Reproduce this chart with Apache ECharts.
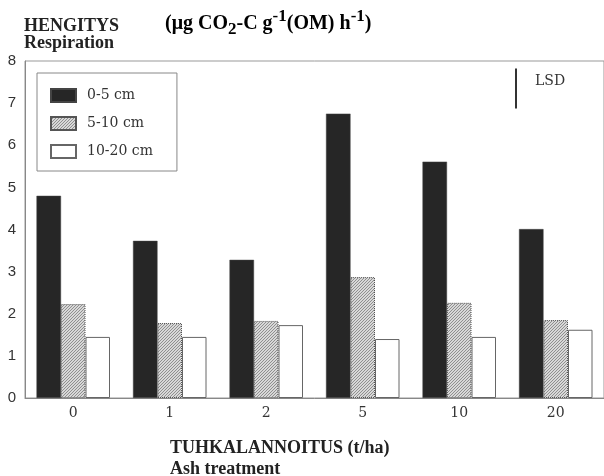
<!DOCTYPE html>
<html><head><meta charset="utf-8">
<script src="https://cdn.jsdelivr.net/npm/echarts@6/dist/echarts.min.js"></script>
<style>html,body{margin:0;padding:0;background:#fff}#c{width:604px;height:476px}</style>
</head><body><div id="c"></div>
<script>
const categories = ['0', '1', '2', '5', '10', '20'];
const depth0_5 = [4.80, 3.73, 3.28, 6.75, 5.61, 4.01];
const depth5_10 = [2.23, 1.78, 1.83, 2.87, 2.26, 1.85];
const depth10_20 = [1.45, 1.45, 1.73, 1.40, 1.45, 1.62];
const seriesNames = ['0-5 cm', '5-10 cm', '10-20 cm'];
const yTicks = [0, 1, 2, 3, 4, 5, 6, 7, 8];
const lsdTop = 7.82, lsdValue = 0.95;

function hatch() {
  const c = document.createElement('canvas');
  c.width = 3; c.height = 3;
  const g = c.getContext('2d');
  g.fillStyle = '#d8d8d8'; g.fillRect(0, 0, 3, 3);
  g.fillStyle = '#8f8f8f';
  for (let i = 0; i < 3; i++) { g.fillRect(i, 2 - i, 1, 1); }
  return c;
}
const chart = echarts.init(document.getElementById('c'), null, {renderer: 'canvas'});
const serif = 'Liberation Serif';
const richUnits = {
  n: {fontFamily: serif, fontWeight: 'bold', fontSize: 20, color: '#222', lineHeight: 26, verticalAlign: 'bottom'},
  sub: {fontFamily: serif, fontWeight: 'bold', fontSize: 17, color: '#222', lineHeight: 26, verticalAlign: 'bottom', padding: [0, 0, -4, 0]},
  sup: {fontFamily: serif, fontWeight: 'bold', fontSize: 17, color: '#222', lineHeight: 26, verticalAlign: 'top'}
};
const baseGraphic = [
  {type: 'text', left: 165, top: 8,
   style: {text: '{n|(μg CO}{sub|2}{n|-C g}{sup|-1}{n|(OM) h}{sup|-1}{n|)}', rich: richUnits}},
  {type: 'text', left: 170, top: 438,
   style: {text: 'TUHKALANNOITUS (t/ha)\nAsh treatment', fontFamily: serif, fontWeight: 'bold', fontSize: 18, lineHeight: 21, fill: '#222'}}
];
chart.setOption({
  animation: false,
  backgroundColor: '#fff',
  title: [
    {left: 19, top: 13, text: 'HENGITYS\nRespiration',
     textStyle: {fontFamily: serif, fontWeight: 'bold', fontSize: 18, color: '#222', lineHeight: 17}},
  ],
  grid: {left: 25, right: -10, top: 61, bottom: 78, show: true, borderColor: '#999', borderWidth: 1},
  legend: {
    left: 37, top: 73, orient: 'vertical', itemWidth: 25, itemHeight: 13, itemGap: 13,
    padding: [15, 24, 12, 13], borderColor: '#888', borderWidth: 1, borderRadius: 0,
    icon: 'rect', selectedMode: false,
    textStyle: {fontFamily: 'DejaVu Serif', fontSize: 14, color: '#333', padding: [0, 0, 0, 6]},
    data: seriesNames
  },
  xAxis: {
    type: 'category', data: categories,
    axisLine: {lineStyle: {color: '#888'}}, axisTick: {show: false},
    axisLabel: {fontFamily: 'DejaVu Serif', fontSize: 14, color: '#333', margin: 8}
  },
  yAxis: {
    type: 'value', min: 0, max: 8, interval: 1,
    splitLine: {show: false}, axisTick: {show: false},
    axisLine: {show: true, lineStyle: {color: '#888'}},
    axisLabel: {fontFamily: 'Liberation Sans', fontSize: 15, color: '#333', margin: 9,
      formatter: v => yTicks.includes(v) ? String(v) : ''}
  },
  series: [
    {name: seriesNames[0], type: 'bar', data: depth0_5, barWidth: 24.5, barGap: '0%',
     itemStyle: {color: '#262626', borderColor: '#444', borderWidth: 0.5}},
    {name: seriesNames[1], type: 'bar', data: depth5_10, barWidth: 24.5, barGap: '0%',
     itemStyle: {color: {image: hatch(), repeat: 'repeat'}, borderColor: '#555', borderWidth: 1, borderType: 'dotted'}},
    {name: seriesNames[2], type: 'bar', data: depth10_20, barWidth: 24.5, barGap: '0%',
     itemStyle: {color: '#fff', borderColor: '#666', borderWidth: 1}}
  ],
  graphic: baseGraphic
});
const yTop = chart.convertToPixel({yAxisIndex: 0}, lsdTop);
const yBot = chart.convertToPixel({yAxisIndex: 0}, lsdTop - lsdValue);
chart.setOption({graphic: baseGraphic.concat([
  {type: 'line', shape: {x1: 516, y1: yTop, x2: 516, y2: yBot}, style: {stroke: '#333', lineWidth: 2}},
  {type: 'text', left: 535, top: yTop + 6, style: {text: 'LSD', fontFamily: 'DejaVu Serif', fontSize: 14, fill: '#333'}}
])}, {replaceMerge: ['graphic']});
</script></body></html>
